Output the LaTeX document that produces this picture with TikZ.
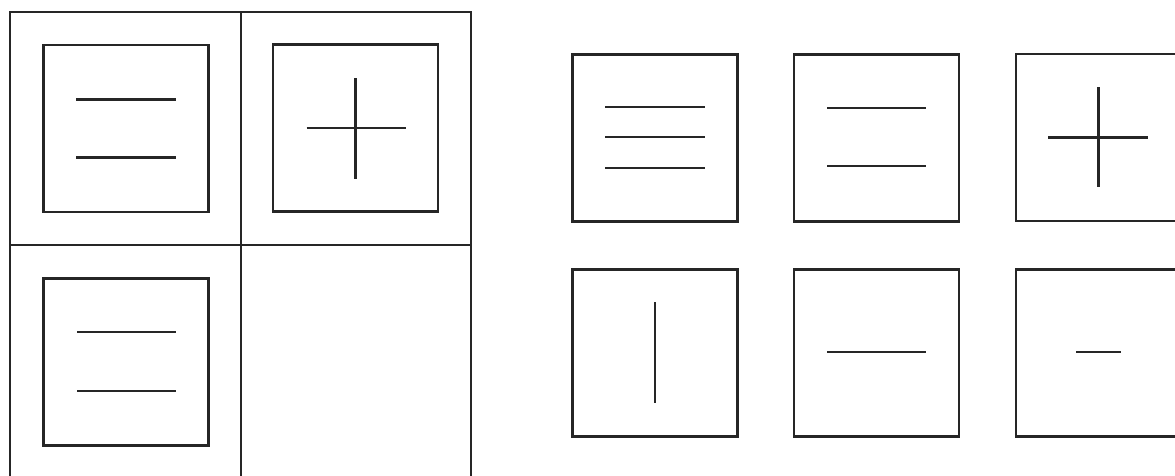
\documentclass[tikz,border=0pt]{standalone}
\usetikzlibrary{positioning}
\begin{document}
\begin{tikzpicture}[x=1pt,y=-1pt,tile/.style={draw=black!85,line width=2.8pt,minimum width=165pt,minimum height=167pt,inner sep=0pt},board/.style={draw=black!85,line width=2.4pt},glyph/.style={draw=black!85,line width=2.6pt}]
\useasboundingbox (0,0) rectangle (1175,475);
\clip (0,0) rectangle (1175,475);
% left board, open at the bottom
\draw[board] (10,480) |- (471,12) -- (471,480);
\draw[board] (241,12) -- (241,480);
\draw[board] (10,245) -- (471,245);
\node[tile] (l1) at (126,128.5) {};
\node[tile] (l2) at (355.5,128) {};
\node[tile] (l3) at (126,362) {};
\draw[glyph] ([shift={(-50,-29)}]l1.center) -- ++(100,0);
\draw[glyph] ([shift={(-50,29)}]l1.center) -- ++(100,0);
\draw[glyph] ([shift={(-49,0)}]l2.center) -- ++(99,0);
\draw[glyph] ([shift={(0,-50)}]l2.center) -- ++(0,101);
\draw[glyph] ([shift={(-49,-30)}]l3.center) -- ++(99,0);
\draw[glyph] ([shift={(-49,29)}]l3.center) -- ++(99,0);
% answer tiles
\node[tile] (r1) at (655,138) {};
\node[tile] (r2) at (876.5,138) {};
\node[tile] (r3) at (1098.5,137.5) {};
\node[tile] (r4) at (655,353) {};
\node[tile] (r5) at (876.5,353) {};
\node[tile] (r6) at (1098.5,353) {};
\draw[glyph] ([shift={(-50,-31)}]r1.center) -- ++(100,0);
\draw[glyph] ([shift={(-50,-1)}]r1.center) -- ++(100,0);
\draw[glyph] ([shift={(-50,30)}]r1.center) -- ++(100,0);
\draw[glyph] ([shift={(-49.5,-30)}]r2.center) -- ++(99,0);
\draw[glyph] ([shift={(-49.5,28)}]r2.center) -- ++(99,0);
\draw[glyph] ([shift={(-50.5,0)}]r3.center) -- ++(100,0);
\draw[glyph] ([shift={(0,-50.5)}]r3.center) -- ++(0,100);
\draw[glyph,line width=2.2pt] ([shift={(0,-51)}]r4.center) -- ++(0,101);
\draw[glyph] ([shift={(-49.5,-1)}]r5.center) -- ++(99,0);
\draw[glyph] ([shift={(-22.5,-1)}]r6.center) -- ++(45,0);
\end{tikzpicture}
\end{document}
